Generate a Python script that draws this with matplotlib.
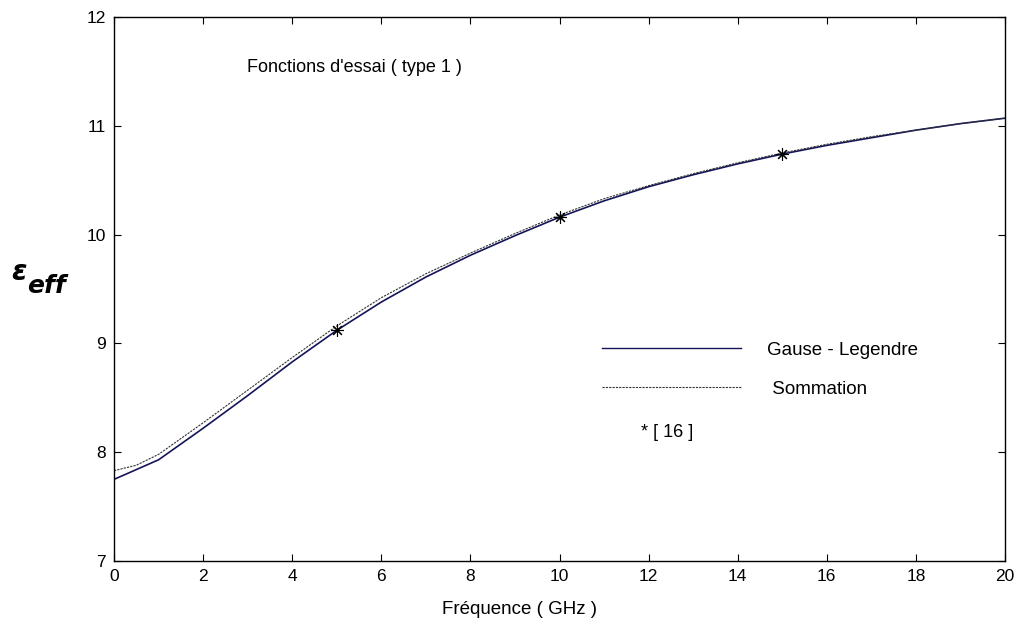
import numpy as np
import matplotlib.pyplot as plt
from matplotlib.lines import Line2D

plt.rcParams['font.family'] = ['Liberation Sans', 'DejaVu Sans']

# frequence (GHz)
freq = [0, 0.5, 1, 2, 3, 4, 5, 6, 7, 8, 9, 10, 11, 12, 13, 14, 15, 16, 17, 18, 19, 20]
# Gauss-Legendre
eps_gauss = [7.75, 7.84, 7.93, 8.22, 8.52, 8.83, 9.12, 9.38, 9.61, 9.81, 9.99, 10.16,
             10.31, 10.44, 10.55, 10.65, 10.74, 10.82, 10.89, 10.96, 11.02, 11.07]
# Sommation
eps_somme = [7.83, 7.88, 7.98, 8.27, 8.57, 8.87, 9.16, 9.42, 9.64, 9.83, 10.01, 10.18,
             10.33, 10.45, 10.56, 10.66, 10.75, 10.83, 10.90, 10.96, 11.02, 11.07]
# reference [16]
freq_ref = [5, 10, 15]
eps_ref = [9.12, 10.16, 10.74]

W, H = 1018, 624
fig = plt.figure(figsize=(W/100, H/100), dpi=100)
ax = fig.add_axes([114/W, 1-561/H, 891/W, 544/H])

ax.plot(freq, eps_gauss, color='#14145a', lw=1.2)
ax.plot(freq, eps_somme, color='#333333', lw=0.8, ls=(0, (2, 1)))
ax.plot(freq_ref, eps_ref, ls='none', marker=(8, 2, 0), ms=9, mew=0.8, color='black')

ax.set_xlim(0, 20)
ax.set_ylim(7, 12)
ax.set_xticks(np.arange(0, 21, 2))
ax.set_yticks(np.arange(7, 13, 1))
ax.tick_params(direction='in', top=True, right=True, length=5, labelsize=12.5, pad=6)
for s in ax.spines.values():
    s.set_linewidth(1.0)

# axis labels
fig.text(520/W, 1-610/H, 'Fréquence ( GHz )', fontsize=13.5, ha='center', va='center')
fig.text(11/W, 1-272/H, 'ε', fontsize=20, family='DejaVu Sans', style='italic',
         fontweight='bold', ha='left', va='center')
fig.text(27/W, 1-286/H, 'eff', fontsize=18, family='DejaVu Sans', style='italic',
         fontweight='bold', ha='left', va='center')

ax.text(2.99, 11.54, "Fonctions d'essai ( type 1 )", fontsize=13, ha='left', va='center')

handles = [Line2D([], [], color='#14145a', lw=1.0),
           Line2D([], [], color='#333333', lw=0.8, ls=(0, (2, 1)))]
ax.legend(handles, ['Gause - Legendre', ' Sommation'], frameon=False, fontsize=13.5,
          handlelength=7.4, handletextpad=1.4, labelspacing=1.15,
          loc='upper left', bbox_to_anchor=(0.537, 0.42), borderpad=0)
ax.text(11.83, 8.18, '* [ 16 ]', fontsize=13, ha='left', va='center')

fig.savefig('out.png', dpi=100)
